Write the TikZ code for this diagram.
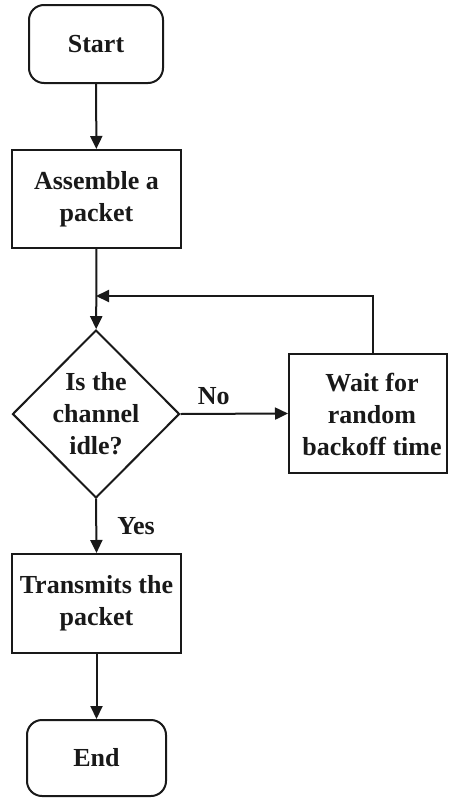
\documentclass[tikz,border=0pt]{standalone}
\usepackage{fontspec}
\setmainfont{Liberation Serif}
\usetikzlibrary{shapes.geometric,arrows.meta}
\begin{document}
\begin{tikzpicture}[x=1pt,y=-1pt,
  font=\bfseries\fontsize{26}{32}\selectfont,
  every node/.style={text=black!90},
  box/.style={draw=black!90, line width=2pt, inner sep=0pt, align=center},
  term/.style={box, rounded corners=15pt},
  decision/.style={diamond, draw=black!90, line width=2pt, inner sep=0pt},
  arr/.style={draw=black!90, line width=2pt, -{Triangle[length=13pt,width=12pt]}}]
\useasboundingbox (0,0) rectangle (448,798);

% flow nodes
\node[term, minimum width=134pt, minimum height=78pt] (start) at (96,44) {Start};
\node[box, minimum width=169pt, minimum height=98pt] (assemble) at (96.5,199) {Assemble a\\packet};
\node[decision, minimum width=167pt, minimum height=168pt] (dec) at (96,414) {};
\node[align=center, inner sep=0pt] (dectext) at (dec.center) {Is the\\channel\\idle?};
\node[box, minimum width=158pt, minimum height=119pt] (wait) at (368,413.5) {};
\node[align=center, inner sep=0pt] (waittext) at (372,414) {Wait for\\random\\backoff time};
\node[box, minimum width=169pt, minimum height=99pt] (send) at (96.5,603.5) {Transmits the\\packet};
\node[term, minimum width=139pt, minimum height=76pt] (end) at (96.5,758) {End};

% join point of the retry loop
\coordinate (join) at (96,296);

% connectors
\draw[arr] (start) -- (assemble);
\draw[arr] (assemble) -- (dec);
\draw[arr] (dec.east) -- (wait.west) node[pos=0.31, above=8pt, inner sep=0pt] (no) {No};
\draw[arr] ([xshift=5pt]wait.north) |- (join);
\draw[arr] (dec.south) -- (send.north) node[midway, right=20pt, inner sep=0pt] (yes) {Yes};
\draw[arr] (send) -- (end);
\end{tikzpicture}
\end{document}
